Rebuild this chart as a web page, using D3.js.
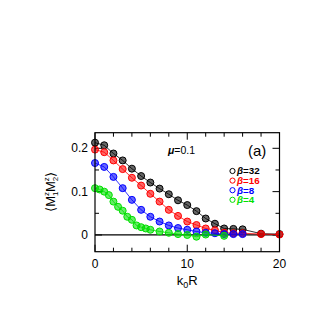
<!DOCTYPE html>
<html>
<head>
<meta charset="utf-8">
<script src="https://cdn.jsdelivr.net/npm/d3@7"></script>
<style>
  html, body { margin: 0; padding: 0; background: #fff; }
  text { font-family: "Liberation Sans", Arial, sans-serif; }
</style>
</head>
<body>
<div id="chart"></div>
<script>
const width = 327, height = 327;
const margin = {left: 95, right: 47.5, top: 132.7, bottom: 75.3};

// k0R values and correlator values per beta
const k32 = [0,1,2,3,4,5,6,7,8,9,10,11,12,13,14,15,16,18,20];
const v32 = [0.213,0.207,0.188,0.172,0.153,0.136,0.121,0.107,0.094,0.080,0.069,0.055,0.038,0.026,0.015,0.014,0.013,0.003,0.002];
const k16 = [0,1,2,3,4,5,6,7,8,9,10,11,12,13,14,15,16,18,20];
const v16 = [0.197,0.191,0.172,0.152,0.132,0.114,0.095,0.077,0.058,0.044,0.031,0.023,0.015,0.011,0.005,0.004,0.004,0.002,0.001];
const k8 = [0,1,2,3,4,5,6,7,8,9,10,11,12,13,14,15,16];
const v8 = [0.166,0.157,0.134,0.108,0.081,0.058,0.042,0.031,0.022,0.016,0.012,0.008,0.005,0.004,0.002,0.002,0.002];
const k4 = [0,0.5,1,1.5,2,2.5,3,3.5,4,4.5,5,5.5,6,7,8,9,10,11,12,14];
const v4 = [0.108,0.105,0.100,0.092,0.077,0.065,0.056,0.042,0.035,0.022,0.018,0.015,0.012,0.008,0.005,0.002,0.000,-0.004,0.001,-0.002];

const betas = ['32', '16', '8', '4'];
const colors = ['#000000', '#ff0000', '#0000ff', '#00e000'];

const xTicks = [0, 10, 20];
const yTicks = [0, 0.1, 0.2];

const series = [
  {beta: betas[0], k: k32, v: v32, color: colors[0]},
  {beta: betas[1], k: k16, v: v16, color: colors[1]},
  {beta: betas[2], k: k8, v: v8, color: colors[2]},
  {beta: betas[3], k: k4, v: v4, color: colors[3]}
];

const svg = d3.select('#chart').append('svg')
  .attr('width', width).attr('height', height);

const x = d3.scaleLinear().domain([0, 20]).range([margin.left, width - margin.right]);
const y = d3.scaleLinear().domain([-0.0386, 0.236]).range([height - margin.bottom, margin.top]);

const x0 = margin.left, x1 = width - margin.right;
const y0 = height - margin.bottom, y1 = margin.top;

// ticks (inward on all four sides)
const tk = svg.append('g').attr('stroke', '#000').attr('stroke-width', 1);
d3.range(0, 21, 2).forEach(t => {
  const len = t % 10 === 0 ? 7 : 4;
  tk.append('line').attr('x1', x(t)).attr('x2', x(t)).attr('y1', y0).attr('y2', y0 - len);
  tk.append('line').attr('x1', x(t)).attr('x2', x(t)).attr('y1', y1).attr('y2', y1 + len);
});
[0, 0.05, 0.1, 0.15, 0.2].forEach(t => {
  const len = Math.round(t * 100) % 10 === 0 ? 7 : 4;
  tk.append('line').attr('x1', x0).attr('x2', x0 + len).attr('y1', y(t)).attr('y2', y(t));
  tk.append('line').attr('x1', x1).attr('x2', x1 - len).attr('y1', y(t)).attr('y2', y(t));
});

// zero line
svg.append('line')
  .attr('x1', x0).attr('x2', x1).attr('y1', y(0)).attr('y2', y(0))
  .attr('stroke', '#000').attr('stroke-width', 1.2);

// tick labels
svg.append('g').selectAll('text').data(xTicks).enter().append('text')
  .attr('x', d => x(d)).attr('y', y0 + 16)
  .attr('text-anchor', 'middle').attr('font-size', 12).text(d => d);
svg.append('g').selectAll('text').data(yTicks).enter().append('text')
  .attr('x', x0 - 7).attr('y', d => y(d) + 4)
  .attr('text-anchor', 'end').attr('font-size', 12).text(d => d === 0 ? '0' : d3.format('.1f')(d));

// series
const line = d3.line().x(d => x(d[0])).y(d => y(d[1]));
series.forEach(s => {
  const pts = s.k.map((k, i) => [k, s.v[i]]);
  svg.append('path').datum(pts).attr('d', line)
    .attr('fill', 'none').attr('stroke', s.color).attr('stroke-width', 0.8);
  svg.append('g').selectAll('circle').data(pts).enter().append('circle')
    .attr('cx', d => x(d[0])).attr('cy', d => y(d[1])).attr('r', 3.5)
    .attr('fill', s.color).attr('fill-opacity', 0.6)
    .attr('stroke', s.color).attr('stroke-width', 1);
});

// frame
svg.append('rect')
  .attr('x', x0).attr('y', y1).attr('width', x1 - x0).attr('height', y0 - y1)
  .attr('fill', 'none').attr('stroke', '#000').attr('stroke-width', 1.2);

// legend
const lg = svg.append('g');
series.forEach((s, i) => {
  const ly = 171 + i * 9.6;
  lg.append('circle').attr('cx', 232.5).attr('cy', ly).attr('r', 2.6)
    .attr('fill', 'none').attr('stroke', s.color).attr('stroke-width', 1);
  const t = lg.append('text').attr('x', 237).attr('y', ly + 3.4)
    .attr('font-size', 9.8).attr('font-weight', 'bold').attr('fill', s.color);
  t.append('tspan').attr('font-style', 'italic').text('β');
  t.append('tspan').text('=' + s.beta);
});

// annotations
svg.append('text').attr('x', 168).attr('y', 154).attr('font-size', 10.5)
  .call(t => {
    t.append('tspan').attr('font-style', 'italic').attr('font-weight', 'bold').text('μ');
    t.append('tspan').text('=0.1');
  });
svg.append('text').attr('x', 248).attr('y', 156).attr('font-size', 15).text('(a)');

// axis titles
svg.append('text').attr('x', x(10)).attr('y', y0 + 33)
  .attr('text-anchor', 'middle').attr('font-size', 13)
  .call(t => {
    t.append('tspan').text('k');
    t.append('tspan').attr('font-size', 9).attr('dy', 3).text('0');
    t.append('tspan').attr('dy', -3).text('R');
  });
svg.append('text')
  .attr('transform', 'translate(55,' + 192 + ') rotate(-90)')
  .attr('text-anchor', 'middle').attr('font-size', 13)
  .call(t => {
    t.append('tspan').text('⟨M');
    t.append('tspan').attr('font-size', 8).attr('dy', 3).attr('dx', 0).text('1');
    t.append('tspan').attr('font-size', 8).attr('dy', -9).attr('dx', -4.5).text('z');
    t.append('tspan').attr('dy', 6).text('M');
    t.append('tspan').attr('font-size', 8).attr('dy', 3).text('2');
    t.append('tspan').attr('font-size', 8).attr('dy', -9).attr('dx', -4.5).text('z');
    t.append('tspan').attr('dy', 6).text('⟩');
  });
</script>
</body>
</html>
